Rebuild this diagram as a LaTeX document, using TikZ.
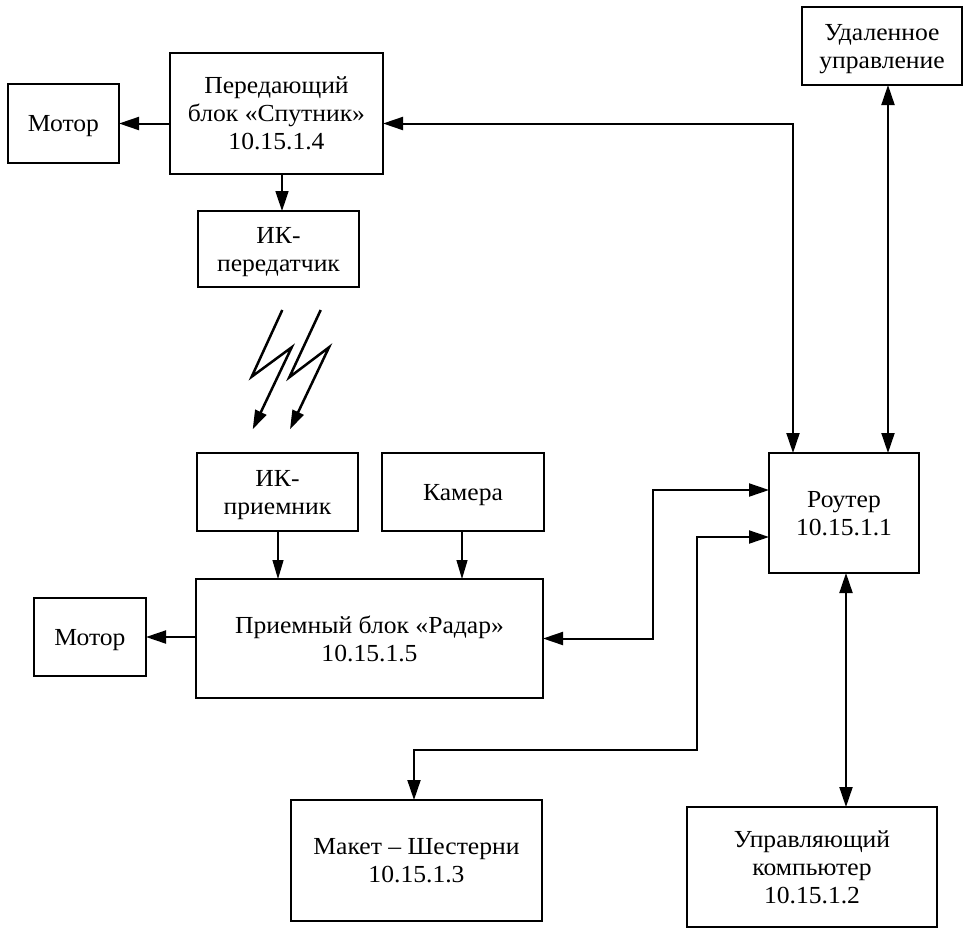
\documentclass[tikz,border=0pt]{standalone}
\usepackage{fontspec}
\setmainfont{Liberation Serif}[FakeStretch=1.045]
\usetikzlibrary{arrows.meta}
\begin{document}
\begin{tikzpicture}[x=1pt,y=-1pt,
  box/.style={draw, line width=2pt, inner sep=0pt, outer sep=0pt, align=center,
    text depth=0pt, font=\fontsize{24.5}{28}\selectfont},
  tip/.tip={Triangle[length=20pt,width=13pt]},
  conn/.style={line width=2pt, -tip},
  dconn/.style={line width=2pt, tip-tip},
  thin/.style={line width=1.2pt, -{Triangle[length=19pt,width=11pt]}},
  bolt/.style={line width=2.5pt, line join=miter, -{Triangle[length=19pt,width=12pt]}}]
\useasboundingbox (0,0) rectangle (972,935);
% boxes
\node[box, minimum width=111pt, minimum height=79pt] (motor1) at (63.5,123.5) {Мотор};
\node[box, minimum width=213pt, minimum height=121pt] (perd) at (276.5,113.5) {Передающий\\блок «Спутник»\\10.15.1.4};
\node[box, minimum width=161pt, minimum height=76pt] (ikper) at (278.5,249) {ИК-\\передатчик};
\node[box, minimum width=160pt, minimum height=78pt] (udal) at (882,46) {Удаленное\\управление};
\node[box, minimum width=161pt, minimum height=78pt] (ikpr) at (277.5,492) {ИК-\\приемник};
\node[box, minimum width=162pt, minimum height=78pt] (kam) at (463,492) {Камера};
\node[box, minimum width=347pt, minimum height=119pt] (priem) at (369.5,638.5) {Приемный блок «Радар»\\10.15.1.5};
\node[box, minimum width=112pt, minimum height=78pt] (motor2) at (90,637) {Мотор};
\node[box, minimum width=150pt, minimum height=120pt] (router) at (844,513) {Роутер\\10.15.1.1};
\node[box, minimum width=251pt, minimum height=121pt] (maket) at (416.5,860.5) {Макет – Шестерни\\10.15.1.3};
\node[box, minimum width=250pt, minimum height=120pt] (comp) at (812,867) {Управляющий\\компьютер\\10.15.1.2};
% helper coordinates
\coordinate (xp) at (282,0);
\coordinate (xs) at (793,0);
\coordinate (xu) at (888,0);
\coordinate (xc) at (846,0);
\coordinate (xi) at (278,0);
\coordinate (xk) at (462,0);
\coordinate (j1) at (653,490);
\coordinate (j2) at (697,537);
\coordinate (j3) at (414,750);
% connectors
\draw[conn] (perd.west |- motor1.east) -- (motor1.east);
\draw[line width=1.5pt, -tip] (perd.south -| xp) -- (ikper.north -| xp);
\draw[dconn] (perd.east |- motor1.east) -| (router.north -| xs);
\draw[dconn] (udal.south -| xu) -- (router.north -| xu);
\draw[thin] (ikpr.south -| xi) -- (priem.north -| xi);
\draw[thin] (kam.south -| xk) -- (priem.north -| xk);
\draw[conn] (priem.west |- motor2.east) -- (motor2.east);
\draw[dconn] (priem.east) -| (j1) -- (j1 -| router.west);
\draw[dconn] (j2 -| router.west) -- (j2) |- (j3) -- (j3 |- maket.north);
\draw[dconn] (router.south -| xc) -- (comp.north -| xc);
% lightning
\draw[bolt] (282.3,310) -- (251.7,376.7) -- (291.7,347.3) -- (252.7,429.3);
\draw[bolt] (320.7,310) -- (289.3,377.3) -- (329,347.3) -- (290,429.3);
\end{tikzpicture}
\end{document}
